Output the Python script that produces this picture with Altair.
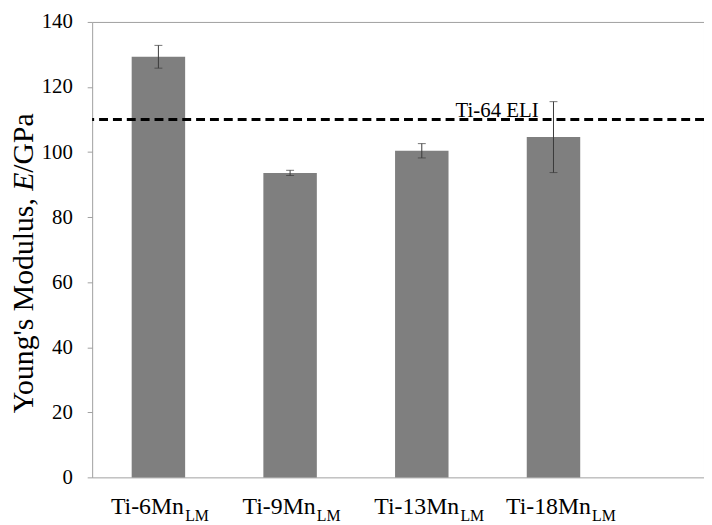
import altair as alt
import pandas as pd

# ---- data ----
alloys = ["Ti-6Mn", "Ti-9Mn", "Ti-13Mn", "Ti-18Mn"]
subscripts = ["LM", "LM", "LM", "LM"]
modulus = [129.3, 93.6, 100.4, 104.6]
errors = [3.5, 0.8, 2.2, 10.9]
ref_value = [110]
ref_label = ["Ti-64 ELI"]
y_ticks = [0, 20, 40, 60, 80, 100, 120, 140]
title_parts = ["Young's Modulus,", "E", "/GPa"]

FONT = "'Liberation Serif', 'Times New Roman', 'DejaVu Serif', serif"

df = pd.DataFrame({"alloy": alloys, "sub": subscripts, "E": modulus, "err": errors})
df["lo"] = df["E"] - df["err"]
df["hi"] = df["E"] + df["err"]
ref_df = pd.DataFrame({"v": ref_value, "label": ref_label})

xscale = alt.Scale(domain=alloys, paddingInner=0.594, paddingOuter=0.62, align=0.242, round=False)
yscale = alt.Scale(domain=[0, 140], nice=False, zero=True)
yaxis = alt.Axis(values=y_ticks, title=None, grid=False, domain=False,
                 tickColor="#a0a0a0", tickSize=5, labelPadding=15,
                 labelFont=FONT, labelFontSize=21, labelColor="#000000")

X = alt.X("alloy:N", scale=xscale, axis=None)

base = alt.Chart(df)

bars = base.mark_bar(color="#7f7f7f").encode(
    x=X, y=alt.Y("E:Q", scale=yscale, axis=yaxis))

err_rule = base.mark_rule(color="#3a3a3a", strokeWidth=1).encode(
    x=X, y=alt.Y("lo:Q", scale=yscale, axis=yaxis), y2="hi:Q")
cap_hi = base.mark_tick(color="#3a3a3a", size=8, thickness=1, orient="horizontal").encode(
    x=X, y=alt.Y("hi:Q", scale=yscale, axis=yaxis))
cap_lo = base.mark_tick(color="#3a3a3a", size=8, thickness=1, orient="horizontal").encode(
    x=X, y=alt.Y("lo:Q", scale=yscale, axis=yaxis))

ref_line = alt.Chart(ref_df).mark_rule(color="black", strokeWidth=3, strokeDash=[9, 5]).encode(
    y=alt.Y("v:Q", scale=yscale, axis=yaxis))
ref_text = alt.Chart(ref_df).mark_text(font=FONT, fontSize=21, align="center",
                                       baseline="alphabetic", dy=-3, color="black").encode(
    x=alt.value(409), y=alt.Y("v:Q", scale=yscale, axis=yaxis), text="label:N")

# category labels with subscript
lab_main = base.mark_text(font=FONT, fontSize=24, align="left", baseline="alphabetic",
                          dx=-48, dy=37, color="black").encode(
    x=X, y=alt.datum(0), text="alloy:N")
lab_sub6 = base.transform_filter("length(datum.alloy) == 6").mark_text(
    font=FONT, fontSize=16, align="left", baseline="alphabetic",
    dx=27, dy=44, color="black").encode(
    x=X, y=alt.datum(0), text="sub:N")
lab_sub7 = base.transform_filter("length(datum.alloy) == 7").mark_text(
    font=FONT, fontSize=16, align="left", baseline="alphabetic",
    dx=39, dy=44, color="black").encode(
    x=X, y=alt.datum(0), text="sub:N")

# rotated axis title with italic E
tdf = pd.DataFrame({"t": title_parts})
t1 = alt.Chart(tdf).transform_filter(alt.datum.t == title_parts[0]).mark_text(
    font=FONT, fontSize=30, angle=270, align="right", baseline="alphabetic", color="black").encode(
    x=alt.value(-60), y=alt.value(178), text="t:N")
t2 = alt.Chart(tdf).transform_filter(alt.datum.t == title_parts[1]).mark_text(
    font=FONT, fontSize=30, angle=270, align="left", baseline="alphabetic",
    fontStyle="italic", color="black").encode(
    x=alt.value(-60), y=alt.value(170.5), text="t:N")
t3 = alt.Chart(tdf).transform_filter(alt.datum.t == title_parts[2]).mark_text(
    font=FONT, fontSize=30, angle=270, align="left", baseline="alphabetic", color="black").encode(
    x=alt.value(-60), y=alt.value(152.2), text="t:N")

chart = alt.layer(bars, err_rule, cap_hi, cap_lo, ref_line, ref_text, lab_main, lab_sub6, lab_sub7, t1, t2, t3).properties(
    width=618, height=460,
    autosize=alt.AutoSizeParams(type="none"),
    padding={"left": 85, "top": 11.5, "right": 0, "bottom": 45},
    background="white",
).configure_view(stroke="#a0a0a0", strokeWidth=1)

chart.save("out.html", embed_options={"renderer": "svg", "actions": False})
